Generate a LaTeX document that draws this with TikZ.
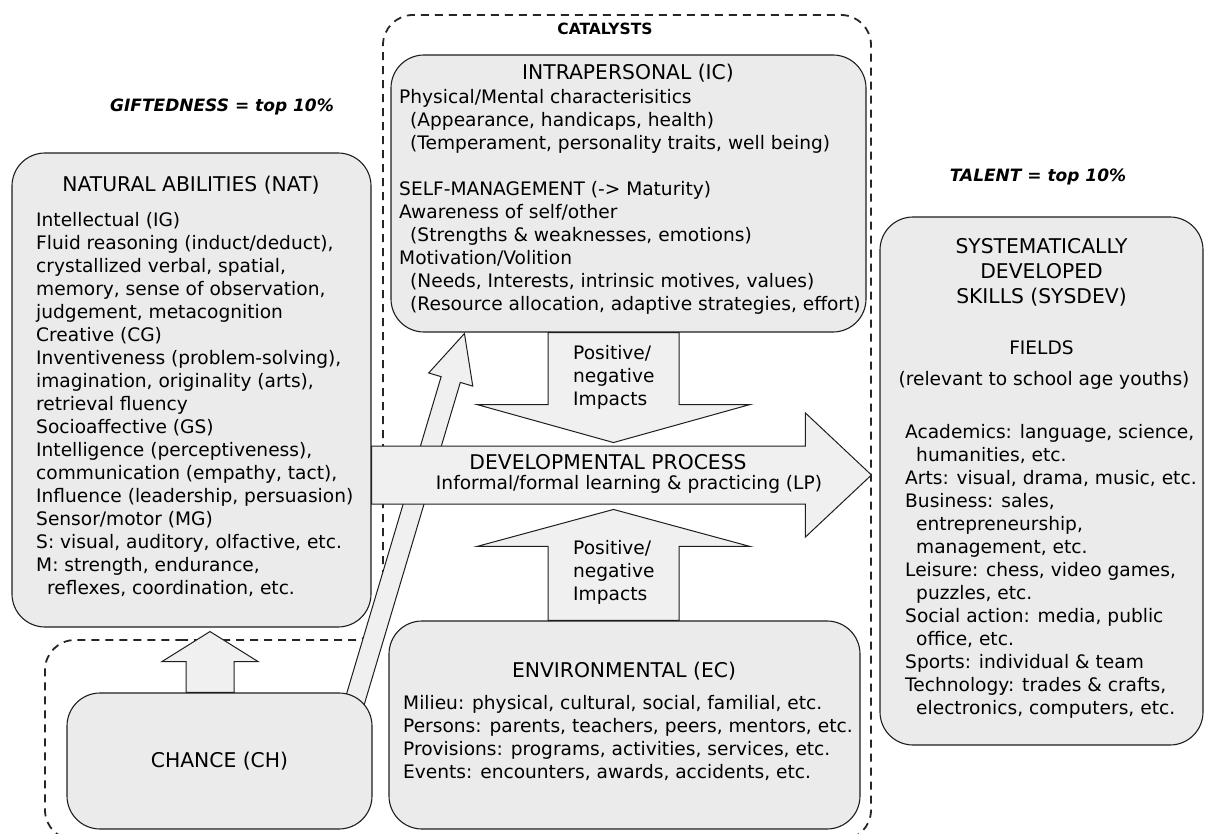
\documentclass[tikz,border=0pt]{standalone}
\usepackage{fontspec}
\setmainfont{DejaVu Sans}
\usepackage{xcolor}
\definecolor{boxfill}{HTML}{EBEBEB}
\definecolor{arrowfill}{HTML}{F0F0F0}
\definecolor{linedark}{HTML}{1E1E1E}
\usepackage{tikz}
\usetikzlibrary{shapes,arrows.meta,positioning,calc,backgrounds}

% block arrow: from, to, half shaft, half head, head length
\newcommand{\blockarrow}[5]{%
  \coordinate (ba-tip) at (#2);
  \coordinate (ba-base) at ($(#2)!#5!(#1)$);
  \filldraw[arrowbody] ($(#1)!#3!90:(#2)$) -- ($(ba-base)!#3!-90:(#1)$) -- ($(ba-base)!#4!-90:(#1)$)
    -- (ba-tip) -- ($(ba-base)!#4!90:(#1)$) -- ($(ba-base)!#3!90:(#1)$) -- ($(#1)!#3!-90:(#2)$) -- cycle;
}

\begin{document}
\begin{tikzpicture}[x=1pt, y=-1pt,
    areabox/.style={rectangle, rounded corners=33pt, draw=linedark, fill=boxfill, line width=1.1pt, inner sep=0pt},
    headtext/.style={font=\fontsize{20.3}{25}\selectfont, align=center, inner sep=0pt},
    plaintext/.style={font=\fontsize{18.6}{23}\selectfont, inner sep=0pt},
    bodytext/.style={plaintext, align=left, anchor=north west},
    tagtext/.style={font=\fontsize{17}{20}\selectfont\bfseries\itshape, inner sep=0pt},
    arrowbody/.style={draw=linedark, fill=arrowfill, line width=1pt, line join=miter},
    catalystline/.style={draw=black!85, dash pattern=on 8pt off 6pt, line width=1.8pt, rounded corners=30pt},
  ]
    \useasboundingbox (0,0) rectangle (1205,834);

    % boxes
    \node[areabox, minimum width=359pt, minimum height=474pt] (nat) at (191.5,390) {};
    \node[areabox, minimum width=475pt, minimum height=277pt] (ic) at (628.5,193.5) {};
    \node[areabox, minimum width=471pt, minimum height=208pt] (env) at (624.5,725) {};
    \node[areabox, minimum width=305pt, minimum height=136pt] (chance) at (219.5,761) {};
    \node[areabox, minimum width=323pt, minimum height=528pt] (sysdev) at (1041.5,481) {};

    % arrow end points
    \coordinate (up-from) at ($(chance.north)+(-9.5,0)$);
    \coordinate (up-to) at ($(nat.south)+(18.5,4)$);
    \coordinate (diag-from) at ($(chance.north east)+(-22,23)$);
    \coordinate (diag-to) at ($(ic.south west)+(74,1)$);
    \coordinate (icimp-from) at ($(ic.south)+(-15,0)$);
    \coordinate (icimp-to) at ($(ic.south)+(-15,110)$);
    \coordinate (envimp-from) at ($(env.north)+(-11,0)$);
    \coordinate (envimp-to) at ($(env.north)+(-11,-111)$);
    \coordinate (dev-from) at ($(nat.east)+(0,85)$);
    \coordinate (dev-to) at ($(sysdev.west)+(-8,-6)$);

    \begin{scope}[on background layer]
      \draw[catalystline] (150,640) -- (383,640) -- (383,15) -- (871,15) -- (871,840) -- (45,840) -- (45,640) -- cycle;
      \blockarrow{diag-from}{diag-to}{10pt}{23pt}{48pt}
      \blockarrow{up-from}{up-to}{24pt}{48pt}{30pt}
      \blockarrow{icimp-from}{icimp-to}{65.5pt}{136.5pt}{38pt}
      \blockarrow{envimp-from}{envimp-to}{65.5pt}{136.5pt}{37pt}
      \blockarrow{dev-from}{dev-to}{29pt}{62pt}{66pt}
    \end{scope}

    % labels
    \node[font=\fontsize{15.5}{18}\selectfont\bfseries, inner sep=0pt] (catalysts) at (605,29) {CATALYSTS};
    \node[tagtext] (gifted) at (222,107) {GIFTEDNESS = top 10\%};
    \node[tagtext] (talent) at (1038,177) {TALENT = top 10\%};

    \node[headtext] (nat-title) at (191,185) {NATURAL ABILITIES (NAT)};
    \node[bodytext] (nat-list) at (36,212) {Intellectual (IG)\\
      Fluid reasoning (induct/deduct),\\
      crystallized verbal, spatial,\\
      memory, sense of observation,\\
      judgement, metacognition\\
      Creative (CG)\\
      Inventiveness (problem-solving),\\
      imagination, originality (arts),\\
      retrieval fluency\\
      Socioaffective (GS)\\
      Intelligence (perceptiveness),\\
      communication (empathy, tact),\\
      Influence (leadership, persuasion)\\
      Sensor/motor (MG)\\
      S: visual, auditory, olfactive, etc.\\
      M: strength, endurance,\\
      \hspace*{11pt}reflexes, coordination, etc.};

    \node[headtext] (ic-title) at (628,73) {INTRAPERSONAL (IC)};
    \node[bodytext] (ic-list) at (399,89) {Physical/Mental characterisitics\\
      \hspace*{11pt}(Appearance, handicaps, health)\\
      \hspace*{11pt}(Temperament, personality traits, well being)\\[23pt]
      SELF-MANAGEMENT (-> Maturity)\\
      Awareness of self/other\\
      \hspace*{11pt}(Strengths \& weaknesses, emotions)\\
      Motivation/Volition\\
      \hspace*{11pt}(Needs, Interests, intrinsic motives, values)\\
      \hspace*{11pt}(Resource allocation, adaptive strategies, effort)};

    \node[bodytext] (ic-impacts) at (573,345) {Positive/\\ negative\\ Impacts};
    \node[bodytext] (env-impacts) at (573,540) {Positive/\\ negative\\ Impacts};

    \node[headtext] (dev-title) at (608,462) {DEVELOPMENTAL PROCESS};
    \node[plaintext] (dev-sub) at (629,484) {Informal/formal learning \& practicing (LP)};

    \node[headtext] (env-title) at (624,671) {ENVIRONMENTAL (EC)};
    \node[bodytext] (env-list) at (403,695) {Milieu: physical, cultural, social, familial, etc.\\
      Persons: parents, teachers, peers, mentors, etc.\\
      Provisions: programs, activities, services, etc.\\
      Events: encounters, awards, accidents, etc.};

    \node[headtext] (chance-title) at (chance) {CHANCE (CH)};

    \node[headtext, anchor=north] (sysdev-title) at (1041.5,238) {SYSTEMATICALLY\\ DEVELOPED\\ SKILLS (SYSDEV)};
    \node[plaintext] (fields) at (1041.5,348) {FIELDS};
    \node[plaintext] (fields-note) at (1044,380) {(relevant to school age youths)};
    \node[bodytext] (sysdev-list) at (905,424) {Academics: language, science,\\
      \hspace*{11pt}humanities, etc.\\
      Arts: visual, drama, music, etc.\\
      Business: sales,\\
      \hspace*{11pt}entrepreneurship,\\
      \hspace*{11pt}management, etc.\\
      Leisure: chess, video games,\\
      \hspace*{11pt}puzzles, etc.\\
      Social action: media, public\\
      \hspace*{11pt}office, etc.\\
      Sports: individual \& team\\
      Technology: trades \& crafts,\\
      \hspace*{11pt}electronics, computers, etc.};
  \end{tikzpicture}
\end{document}
